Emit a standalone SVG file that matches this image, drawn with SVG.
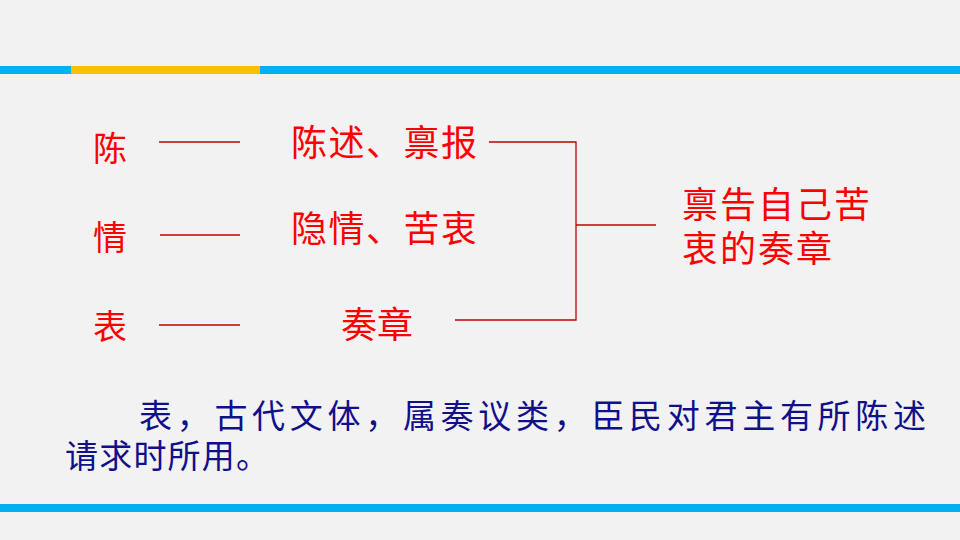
<svg xmlns="http://www.w3.org/2000/svg" width="960" height="540" viewBox="0 0 960 540">
<style>
.red{fill:#ff0000;font-family:"Noto Sans CJK SC","Noto Sans CJK TC",sans-serif;}
.blue{fill:#10108a;font-family:"Noto Sans CJK SC","Noto Sans CJK TC",sans-serif;font-size:33px;}
.ln{stroke:#c00000;stroke-width:1.3;fill:none;}
</style>
<rect width="960" height="540" fill="#f2f2f2"/>
<g id="top-bar">
<rect x="0" y="66" width="960" height="8" fill="#00b0f0"/>
<rect x="71" y="66" width="189" height="8" fill="#ffc000"/>
</g>
<g id="bottom-bar">
<rect x="0" y="504" width="960" height="8" fill="#00b0f0"/>
</g>
<g id="chen"><text class="red" x="93" y="161" font-size="34">陈</text></g>
<g id="qing"><text class="red" x="93" y="250" font-size="34">情</text></g>
<g id="biao"><text class="red" x="93" y="339" font-size="34">表</text></g>
<g id="chenshu"><text class="red" x="291" y="156" font-size="36" textLength="186" lengthAdjust="spacing">陈述、禀报</text></g>
<g id="yinqing"><text class="red" x="291" y="242" font-size="36" textLength="186" lengthAdjust="spacing">隐情、苦衷</text></g>
<g id="zouzhang"><text class="red" x="341" y="338" font-size="36">奏章</text></g>
<g id="result"><text class="red" x="682" y="218" font-size="36" textLength="188" lengthAdjust="spacing">禀告自己苦</text><text class="red" x="682" y="262" font-size="36" textLength="150" lengthAdjust="spacing">衷的奏章</text></g>
<g id="connectors">
<line class="ln" x1="159" y1="142" x2="240" y2="142"/>
<line class="ln" x1="160" y1="235" x2="240" y2="235"/>
<line class="ln" x1="159" y1="325" x2="240" y2="325"/>
<polyline class="ln" points="489,142 576,142 576,320 455,320"/>
<line class="ln" x1="576" y1="225" x2="656" y2="225"/>
</g>
<g id="note">
<text class="blue" x="139" y="428" textLength="787" lengthAdjust="spacing">表，古代文体，属奏议类，臣民对君主有所陈述</text>
<text class="blue" x="65" y="468" textLength="204" lengthAdjust="spacing">请求时所用。</text>
</g>
</svg>
